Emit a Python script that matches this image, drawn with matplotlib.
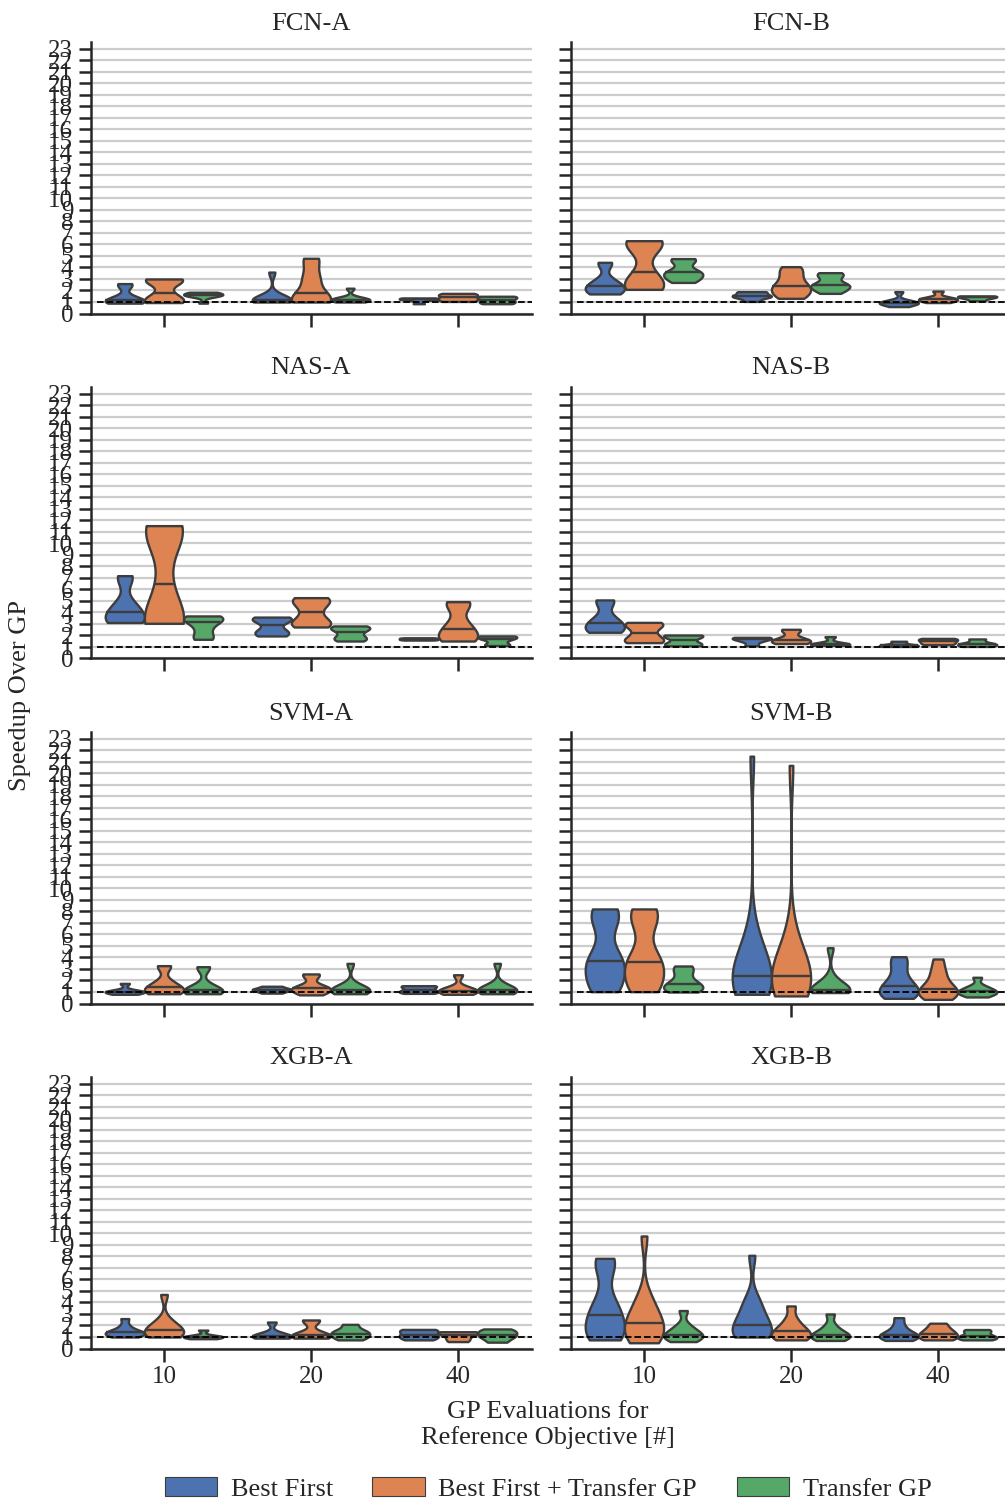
import matplotlib
matplotlib.use("Agg")
from matplotlib import pyplot as plt
from matplotlib.patches import Patch
import numpy as np
import pandas as pd
import seaborn as sns

budgets = ["10", "20", "40"]
methods = ["Best First", "Best First + Transfer GP", "Transfer GP"]
benchmarks = ["FCN-A", "FCN-B", "NAS-A", "NAS-B", "SVM-A", "SVM-B", "XGB-A", "XGB-B"]
colors = ["#4C72B0", "#DD8452", "#55A868"]

# speedup over GP, one list of runs per budget (10, 20, 40)
fcn_a = {
    "Best First": [[0.9, 1.0, 1.05, 1.1, 1.2, 1.5, 2.4, 2.6],
                   [1.0, 1.0, 1.05, 1.1, 1.2, 1.4, 1.5, 3.6],
                   [0.85, 1.2, 1.25, 1.3, 1.35]],
    "Best First + Transfer GP": [[0.95, 1.0, 1.1, 1.3, 1.8, 2.7, 2.9, 3.0, 3.0],
                                 [1.0, 1.0, 1.05, 1.2, 1.5, 2.0, 3.0, 3.2, 4.6, 4.8],
                                 [1.05, 1.2, 1.4, 1.6, 1.75]],
    "Transfer GP": [[0.9, 1.5, 1.55, 1.6, 1.7, 1.8, 1.85],
                    [1.0, 1.1, 1.15, 1.2, 1.3, 1.35, 2.2],
                    [0.85, 1.0, 1.2, 1.4, 1.5]],
}
fcn_b = {
    "Best First": [[1.7, 1.75, 1.9, 2.1, 2.3, 2.5, 2.6, 3.0, 4.3, 4.45],
                   [1.05, 1.4, 1.5, 1.55, 1.85, 1.9],
                   [0.6, 0.8, 0.9, 0.95, 1.0, 1.05, 1.9]],
    "Best First + Transfer GP": [[2.1, 2.2, 2.4, 2.8, 3.6, 5.9, 6.1, 6.2, 6.33],
                                 [1.32, 1.5, 1.8, 2.1, 2.3, 2.4, 2.9, 3.3, 3.8, 4.07],
                                 [0.95, 1.1, 1.2, 1.3, 1.35, 1.95]],
    "Transfer GP": [[2.7, 2.9, 3.1, 3.3, 3.5, 3.64, 3.7, 4.5, 4.7, 4.77],
                    [1.75, 2.0, 2.2, 2.4, 2.5, 2.6, 3.2, 3.4, 3.55],
                    [1.1, 1.3, 1.4, 1.5, 1.53]],
}
nas_a = {
    "Best First": [[3.13, 3.2, 3.3, 3.5, 4.0, 4.5, 4.8, 6.9, 7.2],
                   [1.96, 2.1, 2.3, 2.6, 3.2, 3.4, 3.5, 3.6],
                   [1.6, 1.65, 1.7, 1.75, 1.8]],
    "Best First + Transfer GP": [[3.06, 3.1, 3.3, 3.6, 6.5, 10.5, 11.1, 11.4, 11.55],
                                 [2.74, 2.9, 3.1, 3.3, 4.0, 4.6, 5.0, 5.2, 5.29],
                                 [1.52, 1.6, 1.8, 2.0, 2.4, 2.8, 3.2, 4.6, 4.8, 4.94]],
    "Transfer GP": [[1.67, 1.9, 2.5, 3.0, 3.3, 3.5, 3.6, 3.7],
                    [1.52, 1.7, 1.9, 2.3, 2.6, 2.7, 2.83],
                    [1.13, 1.2, 1.6, 1.8, 1.9, 1.96]],
}
nas_b = {
    "Best First": [[2.28, 2.4, 2.6, 2.9, 3.2, 3.6, 4.9, 5.09],
                   [1.11, 1.5, 1.7, 1.8, 1.84],
                   [1.05, 1.1, 1.2, 1.5]],
    "Best First + Transfer GP": [[1.38, 1.5, 1.7, 2.2, 2.8, 3.0, 3.14],
                                 [1.3, 1.4, 1.5, 1.6, 1.8, 2.4, 2.54],
                                 [1.2, 1.4, 1.6, 1.75]],
    "Transfer GP": [[1.1, 1.2, 1.4, 1.8, 2.0, 2.04],
                    [1.15, 1.2, 1.25, 1.3, 1.9],
                    [1.05, 1.2, 1.3, 1.7]],
}
svm_a = {
    "Best First": [[0.8, 0.95, 1.0, 1.05, 1.1, 1.75],
                   [0.9, 1.1, 1.2, 1.3, 1.5],
                   [0.88, 1.0, 1.1, 1.3, 1.5, 1.55]],
    "Best First + Transfer GP": [[0.85, 0.95, 1.0, 1.1, 1.3, 1.5, 1.6, 2.0, 3.2, 3.29],
                                 [0.75, 1.0, 1.1, 1.3, 1.4, 1.5, 2.4, 2.57],
                                 [0.8, 1.0, 1.05, 1.2, 1.3, 2.5]],
    "Transfer GP": [[0.85, 0.95, 1.0, 1.05, 1.15, 1.3, 1.6, 3.1, 3.2],
                    [0.85, 1.0, 1.05, 1.1, 1.2, 1.4, 1.6, 3.49],
                    [0.85, 1.0, 1.05, 1.1, 1.2, 1.4, 1.6, 3.49]],
}
svm_b = {
    "Best First": [[1.03, 1.2, 1.8, 2.5, 3.2, 3.6, 3.8, 4.5, 6.8, 7.5, 8.0, 8.22],
                   [0.8, 0.9, 1.0, 1.2, 1.5, 2.0, 2.3, 2.5, 2.7, 3.2, 3.8, 4.5, 6.0, 21.5],
                   [0.45, 0.6, 0.9, 1.1, 1.3, 1.7, 2.0, 2.8, 3.6, 4.07]],
    "Best First + Transfer GP": [[1.03, 1.2, 1.8, 2.4, 3.1, 3.5, 3.7, 4.5, 6.8, 7.5, 8.0, 8.22],
                                 [0.66, 0.9, 1.0, 1.2, 1.5, 2.0, 2.3, 2.5, 2.7, 3.2, 3.8, 4.5, 6.0, 20.7],
                                 [0.36, 0.5, 0.8, 1.0, 1.2, 1.4, 1.8, 2.4, 3.0, 3.87]],
    "Transfer GP": [[1.0, 1.1, 1.3, 1.5, 1.7, 1.9, 2.5, 3.0, 3.26],
                    [0.95, 1.0, 1.05, 1.1, 1.2, 1.4, 1.6, 2.2, 4.85],
                    [0.57, 0.8, 0.9, 1.0, 1.1, 1.3, 1.5, 2.28]],
}
xgb_a = {
    "Best First": [[1.0, 1.1, 1.2, 1.3, 1.4, 1.5, 1.6, 2.0, 2.6],
                   [0.9, 1.0, 1.05, 1.1, 1.3, 2.3],
                   [0.75, 1.0, 1.2, 1.5, 1.66]],
    "Best First + Transfer GP": [[1.0, 1.05, 1.2, 1.4, 1.6, 1.8, 2.0, 2.5, 4.7],
                                 [0.9, 1.0, 1.1, 1.2, 1.3, 2.4, 2.48],
                                 [0.6, 0.9, 1.2, 1.4, 1.46]],
    "Transfer GP": [[0.85, 0.95, 1.0, 1.05, 1.1, 1.6],
                    [0.75, 1.0, 1.2, 1.4, 1.6, 2.1],
                    [0.55, 0.9, 1.1, 1.3, 1.5, 1.7]],
}
xgb_b = {
    "Best First": [[0.75, 1.0, 1.2, 1.5, 2.0, 2.9, 3.0, 3.6, 4.5, 7.0, 7.5, 7.84],
                   [1.0, 1.05, 1.1, 1.3, 1.8, 2.0, 2.5, 3.0, 3.8, 4.3, 8.1],
                   [0.7, 0.9, 1.0, 1.1, 1.3, 1.5, 2.0, 2.68]],
    "Best First + Transfer GP": [[0.5, 0.8, 1.0, 1.4, 1.8, 2.2, 2.4, 3.0, 3.8, 4.5, 9.78],
                                 [0.75, 0.9, 1.0, 1.2, 1.5, 1.7, 2.0, 2.6, 3.7],
                                 [0.75, 0.9, 1.1, 1.3, 1.5, 1.8, 2.2]],
    "Transfer GP": [[0.6, 0.9, 1.0, 1.1, 1.3, 1.6, 2.0, 3.3],
                    [0.7, 0.9, 1.0, 1.1, 1.3, 1.5, 2.0, 3.0],
                    [0.75, 0.9, 1.0, 1.2, 1.5, 1.65]],
}
results = [fcn_a, fcn_b, nas_a, nas_b, svm_a, svm_b, xgb_a, xgb_b]

rows = []
for bench, res in zip(benchmarks, results):
    for m in methods:
        for b, vals in zip(budgets, res[m]):
            for v in vals:
                rows.append((bench, m, b, v))
df = pd.DataFrame(rows, columns=["bench", "method", "budget", "speedup"])

sns.set_style("ticks")
plt.rcParams["font.family"] = ["Liberation Serif", "DejaVu Serif"]
plt.rcParams["font.size"] = 19

edge = "#3d3d3d"
W, H = 1005, 1502
fig = plt.figure(figsize=(W / 100, H / 100), dpi=100)
col_left = [90.5, 570.5]
row_bottom = [313.5, 658.5, 1003.5, 1348.5]
ax_w, ax_h = 441, 271.5
dodge = 0.8 / 3

for i, (bench, res) in enumerate(zip(benchmarks, results)):
    r, c = divmod(i, 2)
    ax = fig.add_axes([col_left[c] / W, 1 - row_bottom[r] / H, ax_w / W, ax_h / H])
    sns.violinplot(data=df[df.bench == bench], x="budget", y="speedup", hue="method",
                   order=budgets, hue_order=methods, palette=colors, saturation=1,
                   cut=0, inner=None, density_norm="width", bw_adjust=0.75,
                   linewidth=1.7, linecolor=edge, legend=False, ax=ax)

    # median line across each violin
    for coll in list(ax.collections):
        verts = coll.get_paths()[0].vertices
        xc = (verts[:, 0].min() + verts[:, 0].max()) / 2
        j = int(round(xc))
        k = int(round((xc - j) / dodge)) + 1
        med = np.median(res[methods[k]][j])
        left = verts[verts[:, 0] <= xc]
        right = verts[verts[:, 0] >= xc]
        lo = left[np.argsort(left[:, 1])]
        ro = right[np.argsort(right[:, 1])]
        xl = np.interp(med, lo[:, 1], lo[:, 0])
        xr = np.interp(med, ro[:, 1], ro[:, 0])
        ax.plot([xl, xr], [med, med], color=edge, lw=1.7, solid_capstyle="butt", zorder=4)

    ax.axhline(1, xmin=0.015, color="black", ls="--", lw=1.3, zorder=5)
    ax.set_xlim(-0.5, 2.5)
    ax.set_ylim(0, 23.6)
    ax.set_yticks(range(24))
    ax.yaxis.grid(True, color="#cccccc", lw=1.6)
    ax.set_axisbelow(True)
    ax.set_xlabel("")
    ax.set_ylabel("")
    ax.set_title(bench, fontsize=19, pad=9)
    ax.tick_params(length=9, width=1.8, labelsize=18, color="#262626")
    for s in ["left", "bottom"]:
        ax.spines[s].set_linewidth(1.8)
        ax.spines[s].set_color("#262626")
    sns.despine(ax=ax)
    if c == 1:
        ax.set_yticklabels([])
    if r < 3:
        ax.set_xticklabels([])

fig.text(0.02, 1 - 695 / H, "Speedup Over GP", rotation=90, ha="center", va="center", fontsize=19)
fig.text(548 / W, 1 - 1425 / H, "GP Evaluations for\nReference Objective [#]",
         ha="center", va="center", fontsize=19, linespacing=1.15)
handles = [Patch(facecolor=col, edgecolor=edge, lw=0.8) for col in colors]
fig.legend(handles, methods, loc="center", bbox_to_anchor=(548 / W, 1 - 1489 / H), ncol=3,
           frameon=False, fontsize=19, handlelength=2.0, handletextpad=0.5, columnspacing=1.5)

fig.savefig("out.png", dpi=100)
